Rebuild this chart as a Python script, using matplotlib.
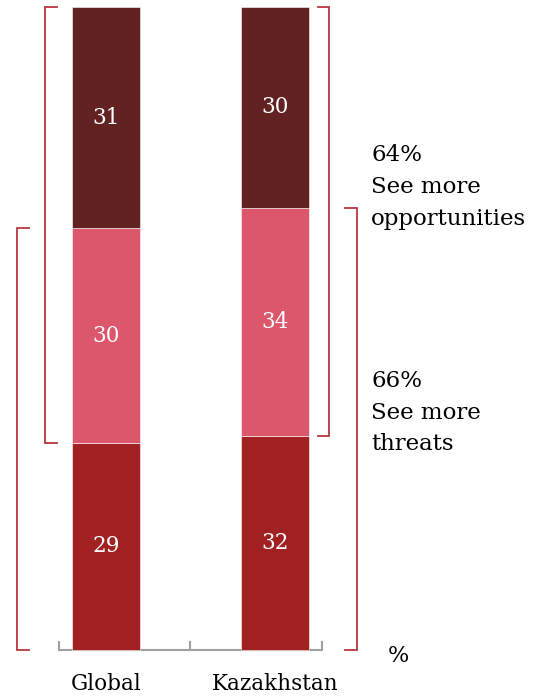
import matplotlib.pyplot as plt
import numpy as np

# survey shares per market, bottom -> top
regions = ['Global', 'Kazakhstan']
threats_only = [29, 32]      # bottom segment
both = [30, 34]              # middle segment
opportunities_only = [31, 30]  # top segment

colors = ['#a12022', '#dc566c', '#622222']
bracket_col = '#b8373f'
serif = ['DejaVu Serif']

vals = np.array([threats_only, both, opportunities_only], dtype=float)
shares = vals / vals.sum(axis=0) * 100
cum = np.vstack([np.zeros(2), np.cumsum(shares, axis=0)])

fig = plt.figure(figsize=(5.37, 6.96), dpi=100)
ax = fig.add_axes([0, 0, 1, 1])
ax.set_xlim(-0.627, 2.55)
ax.set_ylim(-7.15, 101.09)
ax.axis('off')

x = np.arange(len(regions))
w = 0.40
for i in range(3):
    ax.bar(x, shares[i], w, bottom=cum[i], color=colors[i],
           edgecolor='#ffffff', linewidth=0.4, zorder=2)
    for j in range(len(regions)):
        ax.text(x[j], cum[i, j] + shares[i, j] / 2, '%d' % vals[i, j],
                color='white', ha='center', va='center', fontsize=15.5,
                family=serif, zorder=3)

# baseline with category separators
ax.plot([-0.28, 1.28], [0, 0], color='#a0a0a0', lw=1.5, zorder=1,
        solid_capstyle='butt')
for t in [-0.28, 0.50, 1.28]:
    ax.plot([t, t], [0, 1.2], color='#a0a0a0', lw=1.5, zorder=1)

for j, name in enumerate(regions):
    ax.text(x[j], -5.3, name, ha='center', va='center', fontsize=15.5,
            family=serif)


def bracket(xv, xt, y0, y1):
    ax.plot([xt, xv, xv, xt], [y0, y0, y1, y1], color=bracket_col, lw=1.3,
            solid_joinstyle='miter')


# left side: Global
bracket(-0.361, -0.29, cum[1, 0], 100)
bracket(-0.527, -0.456, 0, cum[2, 0])
# right side: Kazakhstan
bracket(1.320, 1.254, cum[1, 1], 100)
bracket(1.485, 1.414, 0, cum[2, 1])

opp = both[1] + opportunities_only[1]
thr = both[1] + threats_only[1]
ax.text(1.57, 78.7, '%d%%\nSee more\nopportunities' % opp, ha='left',
        va='top', fontsize=16.5, family=serif, linespacing=1.58)
ax.text(1.57, 43.6, '%d%%\nSee more\nthreats' % thr, ha='left',
        va='top', fontsize=16.5, family=serif, linespacing=1.58)
ax.text(1.73, -0.9, '%', ha='center', va='center', fontsize=16,
        family=serif)

fig.savefig('out.png', dpi=100)
